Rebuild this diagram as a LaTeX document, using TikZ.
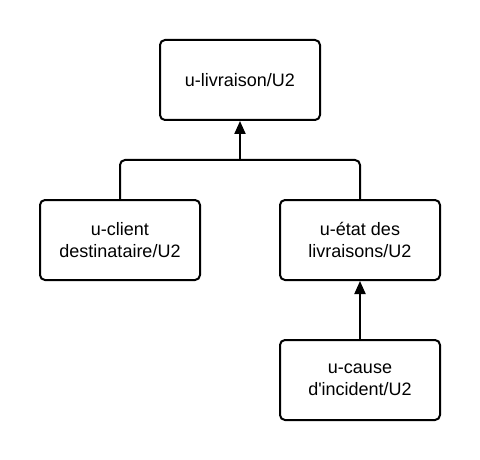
\documentclass[tikz,border=0pt]{standalone}
\usepackage{fontspec}
\setmainfont{Liberation Sans}
\usetikzlibrary{arrows.meta}
\begin{document}
\begin{tikzpicture}[x=1pt,y=-1pt,
  box/.style={draw=black, line width=2pt, rounded corners=5pt, fill=white,
    minimum width=160pt, minimum height=80pt, inner sep=0pt, align=center,
    font=\fontsize{18pt}{22pt}\selectfont},
  link/.style={draw=black, line width=2pt, rounded corners=5pt},
  arr/.style={link, -{Triangle[width=11pt,length=13pt]}}]
\useasboundingbox (0,0) rectangle (480,460);
\node[box] (t) at (240,80) {u-livraison/U2};
\node[box] (l) at (120,240) {u-client\\destinataire/U2};
\node[box] (r) at (360,240) {u-état des\\livraisons/U2};
\node[box] (b) at (360,380) {u-cause\\d\textquotesingle incident/U2};
\coordinate (j) at (240,160);
\draw[link] (l.north) |- (j) -| (r.north);
\draw[arr] (j) -- (t.south);
\draw[arr] (b.north) -- (r.south);
\end{tikzpicture}
\end{document}
